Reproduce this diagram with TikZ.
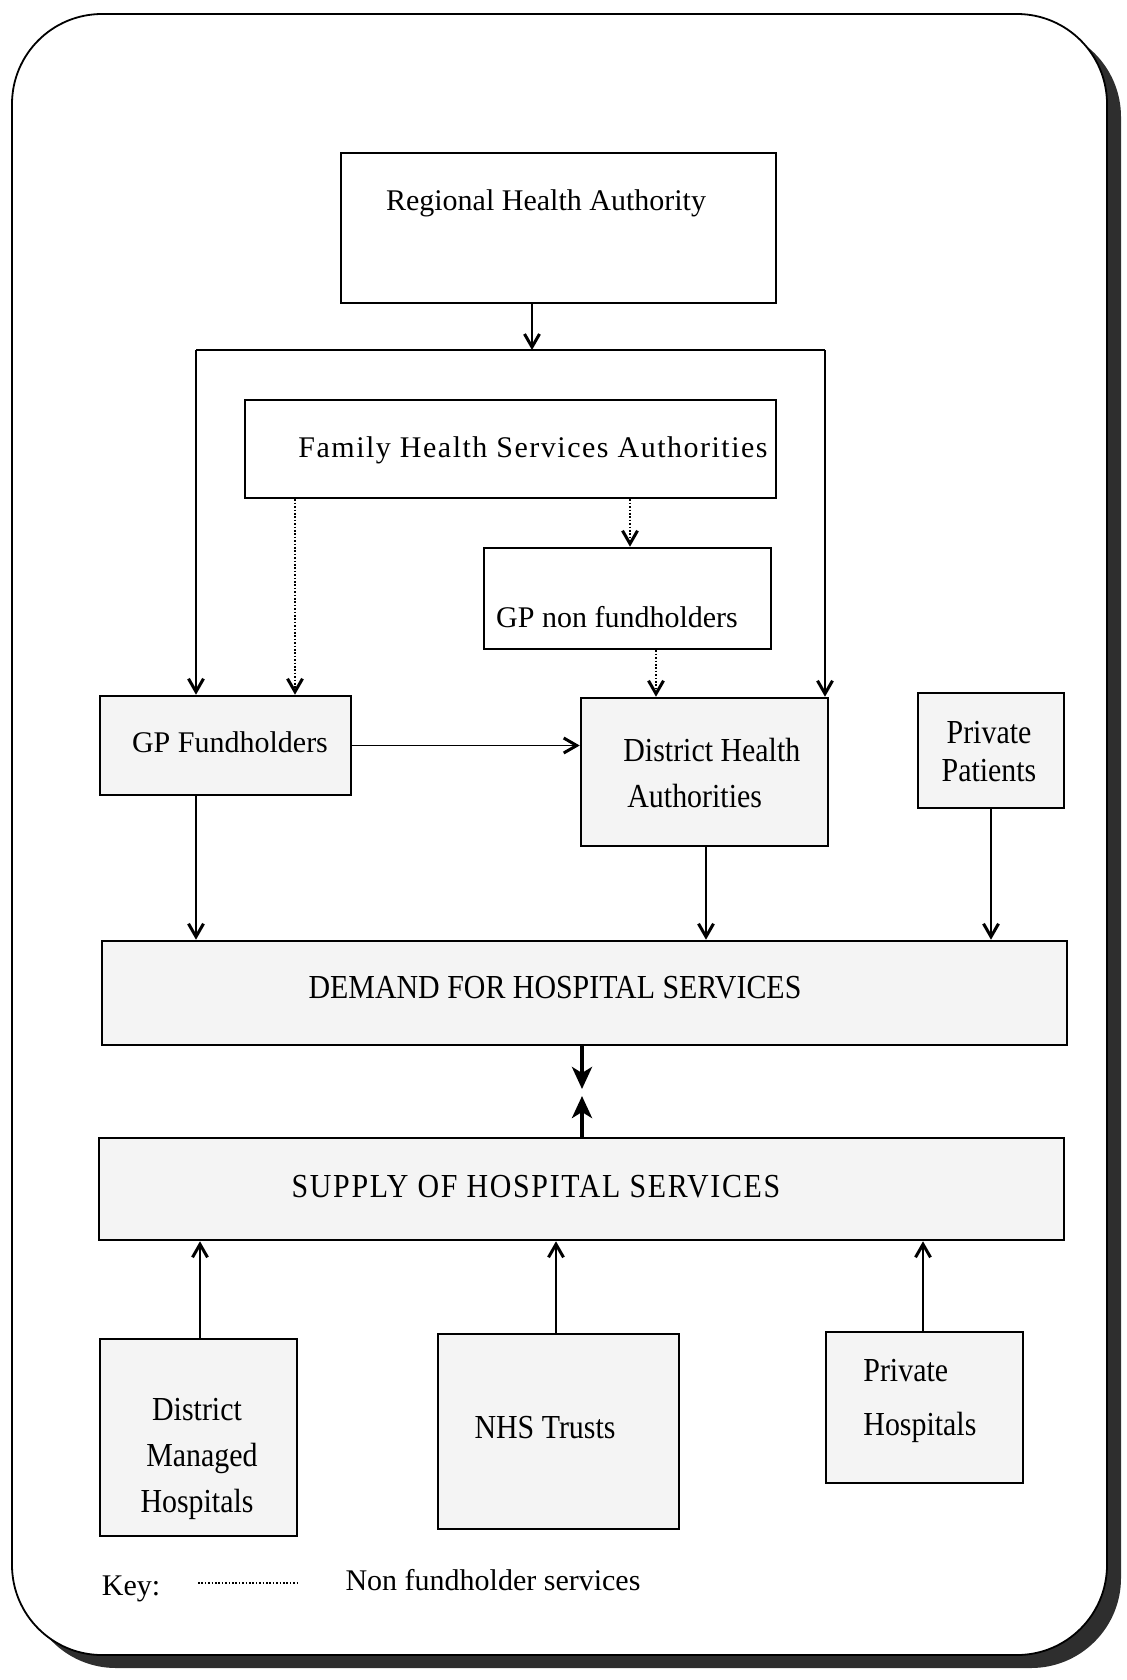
\documentclass[tikz,border=0pt]{standalone}
\usepackage{fontspec}
\setmainfont{Liberation Serif}
\newfontfamily\narrowserif[FakeStretch=0.89]{Liberation Serif}
\usetikzlibrary{arrows.meta}
\begin{document}
\begin{tikzpicture}[x=0.5pt,y=-0.5pt,
  every node/.style={font=\fontsize{15}{18}\selectfont},
  plainbox/.style={draw, line width=1.3pt, fill=white, inner sep=0pt},
  shadedbox/.style={plainbox, fill=gray!9},
  txt/.style={inner sep=0pt, align=center},
  tall/.style={font=\narrowserif\fontsize{16.8}{#1}\selectfont},
  link/.style={line width=0.75pt, -{Straight Barb[length=6.5pt,width=7.5pt,line width=1.5pt]}},
  dotlink/.style={link, dash pattern=on 0.8pt off 0.9pt},
  heavy/.style={line width=2.4pt, -{Stealth[length=11pt,width=10pt,inset=3pt]}}
]
\useasboundingbox (0,0) rectangle (1127,1680);

% frame with drop shadow
\fill[black!82, rounded corners=45pt] (26,27) rectangle (1121,1668);
\filldraw[fill=white, draw=black, line width=0.9pt, rounded corners=45pt] (12,14) rectangle (1107,1655);

% boxes
\node[plainbox, minimum width=217.5pt, minimum height=75pt] (rha) at (558.5,228) {};
\node[txt] (rhaT) at (546,203) {Regional Health Authority};

\node[plainbox, minimum width=265.5pt, minimum height=49pt] (fhsa) at (510.5,449) {};
\node[txt] (fhsaT) at (533,450) {\addfontfeature{LetterSpace=5}Family Health Services Authorities};

\node[plainbox, minimum width=143.5pt, minimum height=50.5pt] (gpn) at (627.5,598.5) {};
\node[txt] (gpnT) at (617,617) {GP non fundholders};

\node[shadedbox, minimum width=125.5pt, minimum height=49.5pt] (gpf) at (225.5,745.5) {};
\node[txt] (gpfT) at (230,742) {GP Fundholders};

\node[shadedbox, minimum width=123.5pt, minimum height=74pt] (dha) at (704.5,772) {};
\node[txt, align=left, anchor=west, tall=23] (dhaT) at (623,773) {District Health\\\hspace*{2pt}Authorities};

\node[shadedbox, minimum width=73pt, minimum height=57.5pt] (pp) at (991,750.5) {};
\node[txt, tall=19] (ppT) at (989,752) {Private\\Patients};

\node[shadedbox, minimum width=482.5pt, minimum height=52pt] (dem) at (584.5,993) {};
\node[txt, tall=20] (demT) at (555,988) {DEMAND FOR HOSPITAL SERVICES};

\node[shadedbox, minimum width=482.5pt, minimum height=51pt] (sup) at (581.5,1189) {};
\node[txt, tall=20] (supT) at (536,1187) {\addfontfeature{LetterSpace=5}SUPPLY OF HOSPITAL SERVICES};

\node[shadedbox, minimum width=98.5pt, minimum height=98.5pt] (dmh) at (198.5,1437.5) {};
\node[txt, tall=23] (dmhT) at (197,1459) {District\\\hspace*{5pt}Managed\\Hospitals};

\node[shadedbox, minimum width=120.5pt, minimum height=97.5pt] (nhs) at (558.5,1431.5) {};
\node[txt, tall=20] (nhsT) at (545,1428) {NHS Trusts};

\node[shadedbox, minimum width=98.5pt, minimum height=75.5pt] (ph) at (924.5,1407.5) {};
\node[txt, align=left, anchor=west, tall=27] (phT) at (863,1401) {Private\\Hospitals};

% routing points
\coordinate (split) at (532,350);
\coordinate (cL) at (196,350);
\coordinate (cR) at (825,350);
\coordinate (xa) at (295,0);
\coordinate (xb) at (630,0);
\coordinate (xc) at (656,0);
\coordinate (xd) at (706,0);
\coordinate (xe) at (991,0);
\coordinate (xf) at (582,0);
\coordinate (xg) at (200,0);
\coordinate (xh) at (556,0);
\coordinate (xi) at (923,0);
\coordinate (tipD) at (582,1089);
\coordinate (tipU) at (582,1096);

% funding from the region
\draw[link] (rha.south -| split) -- (split);
\draw[line width=0.75pt] (cL) -- (cR);
\draw[link] (cL) -- (gpf.north -| cL);
\draw[link] (cR) -- (dha.north -| cR);

% non fundholder routes
\draw[dotlink] (fhsa.south -| xa) -- (gpf.north -| xa);
\draw[dotlink] (fhsa.south -| xb) -- (gpn.north -| xb);
\draw[dotlink] (gpn.south -| xc) -- (dha.north -| xc);

% purchasers
\draw[link] (gpf.east) -- (dha.west |- gpf.east);
\draw[link] (gpf.south -| cL) -- (dem.north -| cL);
\draw[link] (dha.south -| xd) -- (dem.north -| xd);
\draw[link] (pp.south -| xe) -- (dem.north -| xe);

% demand meets supply
\draw[heavy] (dem.south -| xf) -- (tipD);
\draw[heavy] (sup.north -| xf) -- (tipU);

% providers
\draw[link] (dmh.north -| xg) -- (sup.south -| xg);
\draw[link] (nhs.north -| xh) -- (sup.south -| xh);
\draw[link] (ph.north -| xi) -- (sup.south -| xi);

% key
\node[txt] (key) at (131,1589) {Key:};
\coordinate (k1) at (198,1583);
\coordinate (k2) at (297,1583);
\draw[line width=0.75pt, dash pattern=on 0.8pt off 0.9pt] (k1) -- (k2);
\node[txt] (keyT) at (493,1580) {Non fundholder services};
\end{tikzpicture}
\end{document}
